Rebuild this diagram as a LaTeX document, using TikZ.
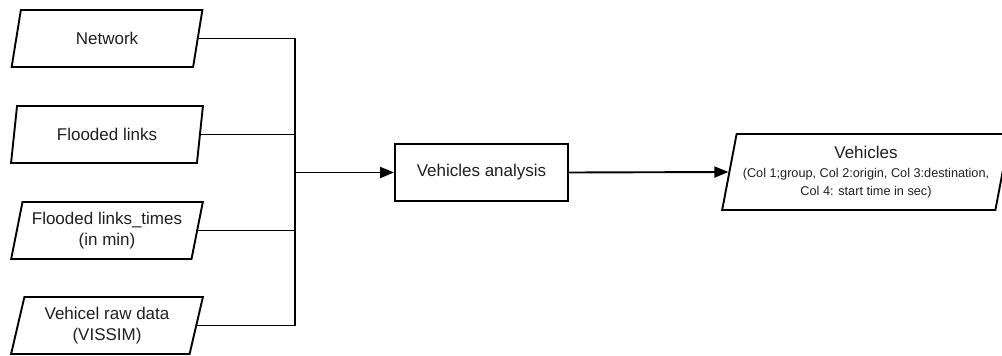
\documentclass[tikz,border=0pt]{standalone}
\usepackage{fontspec}
\setmainfont{Liberation Sans}
\usetikzlibrary{shapes.geometric,arrows.meta}

\newcommand{\colsz}{\fontsize{12.7}{16.7}\selectfont}

\tikzset{
  lnk/.style={line width=1.9pt, black},
  flow/.style={lnk, -{Triangle[length=14pt,width=11pt]}},
  iobox/.style={trapezium, trapezium left angle=75, trapezium right angle=105,
    trapezium stretches=true, draw, line width=1.9pt, align=center,
    inner sep=0pt, text=black!88,
    font=\fontsize{17}{21.7}\selectfont},
  inbox/.style={iobox, minimum width=192pt, minimum height=57pt},
  procbox/.style={rectangle, draw, line width=1.9pt, minimum width=173pt,
    minimum height=57pt, inner sep=0pt, text=black!88,
    font=\fontsize{17}{21.7}\selectfont}
}

\begin{document}
\begin{tikzpicture}[x=1pt,y=-1pt]
  \useasboundingbox (0,0) rectangle (1002,356);
  \clip (0,0) rectangle (1002,356);

  % input data
  \node[inbox] (net)  at (107,38.5)  {Network};
  \node[inbox] (fl)   at (107,134.5) {Flooded links};
  \node[inbox] (flt)  at (107,230.5) {Flooded links\_times\\(in min)};
  \node[inbox] (raw)  at (107,325.5) {Vehicel raw data\\(VISSIM)};

  % processing step
  \node[procbox] (ana) at (481.5,172.5) {Vehicles analysis};

  % output data
  \node[iobox, minimum width=288pt, minimum height=76pt] (veh) at (866,172)
    {Vehicles\\[-3pt]
     \colsz (Col 1;group, Col 2:origin, Col 3:destination,\\[-4pt]
     \colsz Col 4: start time in sec)};

  % collecting bus
  \coordinate (bus) at (295,325.5);
  \draw[lnk] (net.right side) -| (bus);
  \draw[lnk] (raw.right side) -- (bus);
  \draw[lnk] (fl.right side) -- (fl.right side -| bus);
  \draw[lnk] (flt.right side) -- (flt.right side -| bus);

  % flow arrows
  \draw[flow] (ana.west -| bus) -- (ana.west);
  \draw[flow] (ana.east) -- (veh.left side);
\end{tikzpicture}
\end{document}
